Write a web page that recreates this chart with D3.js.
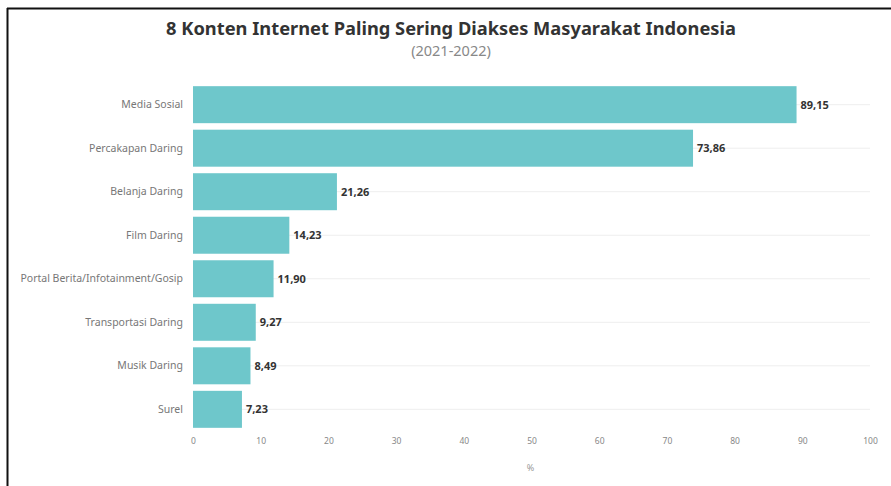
<!DOCTYPE html>
<html>
<head>
<meta charset="utf-8">
<script src="https://cdn.jsdelivr.net/npm/d3@7"></script>
<style>
  html, body { margin: 0; padding: 0; background: #fff; }
  svg { display: block; }
</style>
</head>
<body>
<svg id="chart" width="891" height="486"></svg>
<script>
// Content categories and share of users (%)
const categories = [
  "Media Sosial",
  "Percakapan Daring",
  "Belanja Daring",
  "Film Daring",
  "Portal Berita/Infotainment/Gosip",
  "Transportasi Daring",
  "Musik Daring",
  "Surel"
];
const values = [89.15, 73.86, 21.26, 14.23, 11.90, 9.27, 8.49, 7.23];
const xTicks = [0, 10, 20, 30, 40, 50, 60, 70, 80, 90, 100];

const title = "8 Konten Internet Paling Sering Diakses Masyarakat Indonesia";
const subtitle = "(2021-2022)";

const svg = d3.select("#chart");
const W = 891, H = 486;
const margin = { left: 193, right: 21, top: 84, bottom: 56 };

// frame lines along the top and left
svg.append("line").attr("x1", 7).attr("x2", W).attr("y1", 8.5).attr("y2", 8.5)
  .attr("stroke", "#111").attr("stroke-width", 2);
svg.append("line").attr("x1", 7.5).attr("x2", 7.5).attr("y1", 8).attr("y2", H)
  .attr("stroke", "#111").attr("stroke-width", 2);

const x = d3.scaleLinear().domain([0, 100]).range([margin.left, W - margin.right]);
const y = d3.scaleBand().domain(categories).range([margin.top, H - margin.bottom]).paddingInner(0.15).paddingOuter(0.05);

const font = "'Noto Sans', 'Open Sans', sans-serif";

// title
svg.append("text").attr("x", 451).attr("y", 35).attr("text-anchor", "middle")
  .attr("font-family", font).attr("font-weight", 700).attr("font-size", 18.3)
  .attr("fill", "#333").text(title);
svg.append("text").attr("x", 451).attr("y", 56).attr("text-anchor", "middle")
  .attr("font-family", font).attr("font-size", 14.5).attr("fill", "#888").text(subtitle);

// faint row guides through the bar centres
svg.append("g").selectAll("line").data(categories).join("line")
  .attr("x1", x(0)).attr("x2", x(100))
  .attr("y1", d => y(d) + y.bandwidth() / 2).attr("y2", d => y(d) + y.bandwidth() / 2)
  .attr("stroke", "#eeeeee").attr("stroke-width", 1);

// bars
svg.append("g").selectAll("rect").data(categories).join("rect")
  .attr("x", x(0)).attr("y", d => y(d))
  .attr("width", (d, i) => x(values[i]) - x(0))
  .attr("height", y.bandwidth())
  .attr("fill", "#6ec7cb");

// value labels
const fmt = v => d3.format(".2f")(v).replace(".", ",");
svg.append("g").selectAll("text").data(categories).join("text")
  .attr("x", (d, i) => x(values[i]) + 4)
  .attr("y", d => y(d) + y.bandwidth() / 2)
  .attr("dy", "0.35em")
  .attr("font-family", font).attr("font-weight", 700).attr("font-size", 11)
  .attr("fill", "#333").text((d, i) => fmt(values[i]));

// category axis
const yAxis = svg.append("g").attr("transform", `translate(${margin.left - 10},0)`)
  .call(d3.axisLeft(y).tickSize(0).tickPadding(0));
yAxis.select(".domain").remove();
yAxis.selectAll("text").attr("font-family", font).attr("font-size", 10.5).attr("fill", "#777");

// value axis
const xAxis = svg.append("g").attr("transform", `translate(0,${H - margin.bottom})`)
  .call(d3.axisBottom(x).tickValues(xTicks).tickSize(0).tickPadding(8));
xAxis.select(".domain").remove();
xAxis.selectAll("text").attr("font-family", font).attr("font-size", 8.5).attr("fill", "#888");

svg.append("text").attr("x", (x(0) + x(100)) / 2 - 1).attr("y", 471).attr("text-anchor", "middle")
  .attr("font-family", font).attr("font-size", 9).attr("fill", "#999").text("%");
</script>
</body>
</html>
